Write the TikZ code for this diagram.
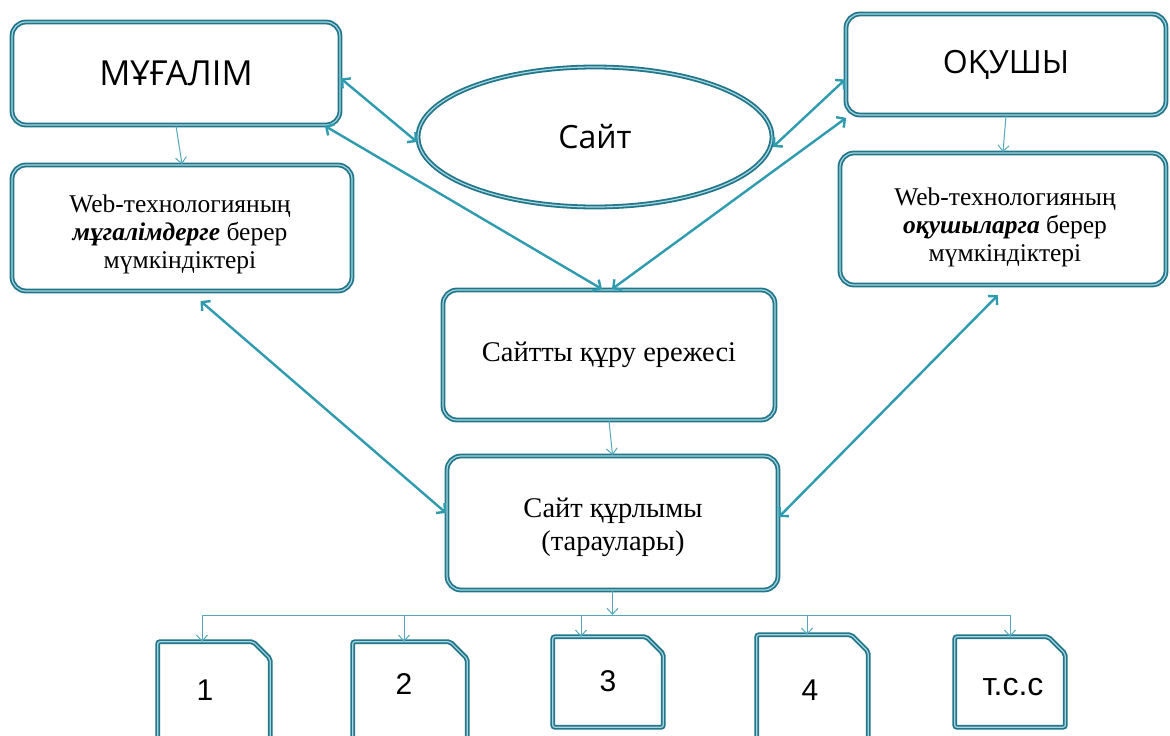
\documentclass[tikz,border=0pt]{standalone}
\usepackage{fontspec}
\setmainfont{Liberation Serif}
\newfontfamily\headfont{Open Sans}
\newfontfamily\numfont{Liberation Sans}
\usetikzlibrary{arrows.meta,calc,shapes.geometric}

\definecolor{framedark}{HTML}{21768A}
\definecolor{framelight}{HTML}{A8D6E0}
\definecolor{linkcol}{HTML}{2E9BAF}
\definecolor{thincol}{HTML}{55A8BA}

\tikzset{
  framed/.style={draw=framedark, double=framelight, double distance=1.2pt,
                 line width=1.8pt, fill=white},
  roundbox/.style={framed, rounded corners=14pt, align=center, inner sep=0pt},
  heading/.style={font=\headfont\fontsize{32}{36}\selectfont},
  bodytext/.style={font=\fontsize{25.5}{28}\selectfont, align=center, inner sep=0pt},
  bigtext/.style={font=\fontsize{28.5}{33}\selectfont, align=center, inner sep=0pt},
  numtext/.style={font=\numfont\fontsize{30}{34}\selectfont, inner sep=0pt},
  twoway/.style={linkcol, line width=2.4pt,
                 {Straight Barb[length=6pt,width=13pt]}-{Straight Barb[length=6pt,width=13pt]}},
  oneway/.style={thincol, line width=1pt, -{Straight Barb[length=6pt,width=11pt]}},
  busline/.style={thincol, line width=1pt},
}

% frame with a clipped top-right corner, drawn round an empty node
\newcommand\snipframe[1]{%
  \draw[framed, rounded corners=2pt] (#1.south west) -- (#1.north west)
    -- ([xshift=-17pt]#1.north east) -- ([yshift=-17pt]#1.north east)
    -- (#1.south east) -- cycle;}

\begin{document}
\begin{tikzpicture}[x=1pt,y=-1pt]
\clip (0,0) rectangle (1170,736);
\fill[white] (0,0) rectangle (1170,736);

% top row
\node[roundbox, heading, font=\headfont\fontsize{34.5}{38}\selectfont,
      minimum width=328pt, minimum height=103pt] (teacher) at (176,73.5) {МҰҒАЛІМ};
\node[roundbox, heading, minimum width=320pt, minimum height=101pt] (student) at (1006,64.5) {ОҚУШЫ};
\node[framed, ellipse, heading, minimum width=354pt, minimum height=140pt, inner sep=0pt] (site) at (595,137) {Сайт};

% possibilities boxes
\node[roundbox, minimum width=340pt, minimum height=126pt] (webT) at (182,228) {};
\node[bodytext] (webTtext) at (180,234) {Web-технологияның\\\textbf{\textit{мұгалімдерге}} берер\\мүмкіндіктері};
\node[roundbox, minimum width=326pt, minimum height=132pt] (webS) at (1003,219) {};
\node[bodytext] (webStext) at (1005,227) {Web-технологияның\\\textbf{\textit{оқушыларга}} берер\\мүмкіндіктері};

% centre column
\node[roundbox, bigtext, minimum width=332pt, minimum height=130pt] (rule) at (609,355) {Сайтты құру ережесі};
\node[roundbox, minimum width=331pt, minimum height=134pt] (struct) at (612.5,523) {};
\node[bigtext] (structtext) at (613,527) {Сайт құрлымы\\(тараулары)};

% section boxes
\node[minimum width=112pt, minimum height=104pt, inner sep=0pt] (b1) at (214,694) {};
\node[minimum width=114pt, minimum height=104pt, inner sep=0pt] (b2) at (410,694) {};
\node[minimum width=110pt, minimum height=90pt, inner sep=0pt] (b3) at (608,682) {};
\node[minimum width=111pt, minimum height=110pt, inner sep=0pt] (b4) at (812.5,690) {};
\node[minimum width=110pt, minimum height=90pt, inner sep=0pt] (b5) at (1010,682) {};
\snipframe{b1}\snipframe{b2}\snipframe{b3}\snipframe{b4}\snipframe{b5}
\node[numtext] (n1) at (205,690) {1};
\node[numtext] (n2) at (404,684) {2};
\node[numtext] (n3) at (608,681) {3};
\node[numtext] (n4) at (810,690) {4};
\node[numtext, font=\numfont\fontsize{32}{36}\selectfont] (n5) at (1013,687) {т.с.с};

% one-way links
\draw[oneway] (teacher.south) -- (webT.north);
\draw[oneway] (student.south) -- (webS.north);
\draw[oneway] (rule.south) -- (struct.north);

% two-way links
\draw[twoway] ([yshift=-5pt]teacher.east) -- ([yshift=-5pt]site.west);
\draw[twoway] ([yshift=-10pt]site.east) -- ([yshift=-15pt]student.west);
\draw[twoway] ([xshift=-16pt]teacher.south east) -- ([xshift=-7pt]rule.north);
\draw[twoway] ([xshift=1pt,yshift=-2pt]student.south west) -- ([xshift=3pt]rule.north);
\draw[twoway, shorten <=14pt] ([xshift=8pt]webT.south) -- ([yshift=10pt]struct.west);
\draw[twoway, shorten <=13pt] ([xshift=4pt]webS.south) -- ([yshift=6pt]struct.east);

% distribution bus to the sections
\coordinate (bus1) at (202,615);
\coordinate (bus2) at (404,615);
\coordinate (bus3) at (581,615);
\coordinate (bus4) at (807,615);
\coordinate (bus5) at (1010,615);
\draw[busline] (bus1) -- (bus5);
\draw[oneway] (struct.south) -- (struct.south |- bus1);
\draw[oneway] (bus1) -- (bus1 |- b1.north);
\draw[oneway] (bus2) -- (bus2 |- b2.north);
\draw[oneway] (bus3) -- (bus3 |- b3.north);
\draw[oneway] (bus4) -- (bus4 |- b4.north);
\draw[oneway] (bus5) -- (bus5 |- b5.north);
\end{tikzpicture}
\end{document}
